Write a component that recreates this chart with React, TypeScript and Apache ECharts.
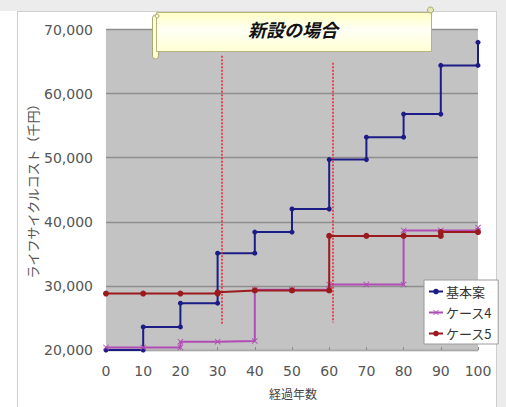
import React, { useEffect, useRef } from "react";
import * as echarts from "echarts";

const seriesNames = ["基本案", "ケース4", "ケース5"];

const baseYears = [0, 10, 10, 20, 20, 30, 30, 40, 40, 50, 50, 60, 60, 70, 70, 80, 80, 90, 90, 100, 100];
const baseCost = [20000, 20000, 23600, 23600, 27300, 27300, 35100, 35100, 38400, 38400, 42000, 42000, 49700, 49700, 53200, 53200, 56800, 56800, 64400, 64400, 68000];

const case4Years = [0, 10, 20, 20, 30, 40, 40, 50, 60, 60, 70, 80, 80, 90, 100, 100];
const case4Cost = [20400, 20400, 20400, 21300, 21300, 21400, 29400, 29400, 29400, 30200, 30200, 30200, 38650, 38650, 38650, 39100];

const case5Years = [0, 10, 20, 30, 30, 40, 50, 60, 60, 70, 80, 90, 90, 100];
const case5Cost = [28800, 28800, 28800, 28800, 29000, 29300, 29300, 29300, 37800, 37800, 37800, 37800, 38400, 38400];

// red dotted reference lines: [year, top value, bottom value]
const refYears = [31, 61];
const refTop = [65900, 64800];
const refBottom = [24100, 24300];

const xTicks = { min: 0, max: 100, interval: 10 };
const yTicks = { min: 20000, max: 70000, interval: 10000 };

const titleText = "新設の場合";
const yName = "ライフサイクルコスト（千円）";
const xName = "経過年数";

const colors = ["#1c1c86", "#b04cb4", "#9a1a1e"];
const crossPath =
  "path://M0,1L1,0L5,4L9,0L10,1L6,5L10,9L9,10L5,6L1,10L0,9L4,5Z";

function fmt(v: number) {
  return String(v).replace(/\B(?=(\d{3})+(?!\d))/g, ",");
}

function pairs(xs: number[], ys: number[]) {
  return xs.map((x, i) => [x, ys[i]]);
}

export default function App() {
  const ref = useRef<HTMLDivElement>(null);
  useEffect(() => {
    if (!ref.current) return;
    const chart = echarts.init(ref.current, null, { renderer: "svg" });
    const font = "DejaVu Sans, Liberation Sans, sans-serif";
    const cjk = "'Noto Sans CJK JP', sans-serif";
    chart.setOption({
      animation: false,
      backgroundColor: "transparent",
      grid: {
        left: 106,
        right: 28,
        top: 29.5,
        bottom: 57,
        show: true,
        backgroundColor: "#c3c3c3",
        borderWidth: 0,
        outerBoundsMode: "none",
        containLabel: false,
      },
      xAxis: {
        type: "value",
        min: xTicks.min,
        max: xTicks.max,
        interval: xTicks.interval,
        axisLine: { show: true, lineStyle: { color: "#a8a8a8", width: 1 } },
        axisTick: { show: true, inside: true, length: 3, lineStyle: { color: "#8a8a8a" } },
        splitLine: { show: false },
        axisLabel: { margin: 14, fontSize: 14, color: "#555", fontFamily: font },
      },
      yAxis: {
        type: "value",
        min: yTicks.min,
        max: yTicks.max,
        interval: yTicks.interval,
        axisLine: { show: false },
        axisTick: { show: false },
        splitLine: { show: true, lineStyle: { color: "#8e8e8e", width: 1.3 } },
        axisLabel: {
          margin: 13,
          fontSize: 14,
          color: "#555",
          fontFamily: font,
          formatter: (v: number) => fmt(v),
        },
      },
      legend: {
        orient: "vertical",
        left: 424,
        top: 280,
        padding: [5, 6, 4, 4],
        itemGap: 8,
        itemWidth: 14,
        itemHeight: 7,
        backgroundColor: "#ffffff",
        borderColor: "#9a9a9a",
        borderWidth: 1,
        textStyle: { fontSize: 13, color: "#333", fontFamily: cjk, padding: [0, 0, 0, -2] },
        data: seriesNames,
      },
      series: [
        {
          name: seriesNames[0],
          type: "line",
          data: pairs(baseYears, baseCost),
          color: colors[0],
          lineStyle: { width: 2, color: colors[0] },
          symbol: "circle",
          symbolSize: 5,
          itemStyle: { color: colors[0] },
          z: 3,
        },
        {
          name: seriesNames[1],
          type: "line",
          data: pairs(case4Years, case4Cost),
          color: colors[1],
          lineStyle: { width: 2, color: colors[1] },
          symbol: crossPath,
          symbolSize: 6,
          itemStyle: { color: colors[1] },
          z: 4,
        },
        {
          name: seriesNames[2],
          type: "line",
          data: pairs(case5Years, case5Cost),
          color: colors[2],
          lineStyle: { width: 2, color: colors[2] },
          symbol: "circle",
          symbolSize: 6,
          itemStyle: { color: colors[2] },
          z: 5,
          markLine: {
            silent: true,
            symbol: "none",
            label: { show: false },
            lineStyle: { color: "#ec2a3a", width: 1.6, type: [2, 1.5] },
            data: refYears.map((y, i) => [
              { coord: [y, refTop[i]] },
              { coord: [y, refBottom[i]] },
            ]),
          },
        },
      ],
      graphic: [
        {
          type: "text",
          x: 32,
          y: 188,
          rotation: Math.PI / 2,
          style: {
            text: yName,
            fontSize: 13,
            fill: "#555",
            fontFamily: cjk,
            align: "center",
            verticalAlign: "middle",
          },
          z: 10,
        },
        {
          type: "text",
          x: 293,
          y: 393,
          style: {
            text: xName,
            fontSize: 12,
            fill: "#444",
            fontFamily: cjk,
            align: "center",
            verticalAlign: "middle",
          },
          z: 10,
        },
        {
          type: "group",
          z: 20,
          children: [
            {
              type: "rect",
              shape: { x: 152.5, y: 15, width: 6, height: 44, r: 3 },
              style: { fill: "#ffffd6", stroke: "#a8a878", lineWidth: 1 },
              z: 20,
            },
            {
              type: "rect",
              shape: { x: 156.5, y: 12.5, width: 275, height: 39 },
              style: {
                fill: new echarts.graphic.LinearGradient(0, 0, 0, 1, [
                  { offset: 0, color: "#ffffc4" },
                  { offset: 0.45, color: "#fffff6" },
                  { offset: 1, color: "#ffffd2" },
                ]),
                stroke: "#b4b47c",
                lineWidth: 1,
              },
              z: 21,
            },
            {
              type: "circle",
              shape: { cx: 157, cy: 16, r: 2 },
              style: { fill: "#ffffd6", stroke: "#a8a878", lineWidth: 1 },
              z: 22,
            },
            {
              type: "circle",
              shape: { cx: 430.5, cy: 10, r: 3 },
              style: { fill: "#e8e8b0", stroke: "#a8a878", lineWidth: 1 },
              z: 22,
            },
            {
              type: "text",
              x: 293,
              y: 29,
              style: {
                text: titleText,
                fontSize: 18,
                fontWeight: "bold",
                fontStyle: "italic",
                fill: "#111",
                fontFamily: cjk,
                align: "center",
                verticalAlign: "middle",
              },
              z: 23,
            },
          ],
        },
      ],
    });
    return () => chart.dispose();
  }, []);

  return (
    <div
      style={{
        position: "absolute",
        left: 0,
        top: 0,
        width: 506,
        height: 407,
        background: "#ffffff",
        overflow: "hidden",
      }}
    >
      <div style={{ position: "absolute", left: 0, top: 0, width: 506, height: 11, background: "#ececec" }} />
      <div style={{ position: "absolute", left: 496, top: 0, width: 10, height: 407, background: "#ececec" }} />
      <div
        style={{
          position: "absolute",
          left: 17,
          top: 11,
          width: 478,
          height: 410,
          border: "1px solid #cfcfcf",
          background: "#ffffff",
        }}
      />
      <div ref={ref} style={{ position: "absolute", left: 0, top: 0, width: 506, height: 407 }} />
    </div>
  );
}
